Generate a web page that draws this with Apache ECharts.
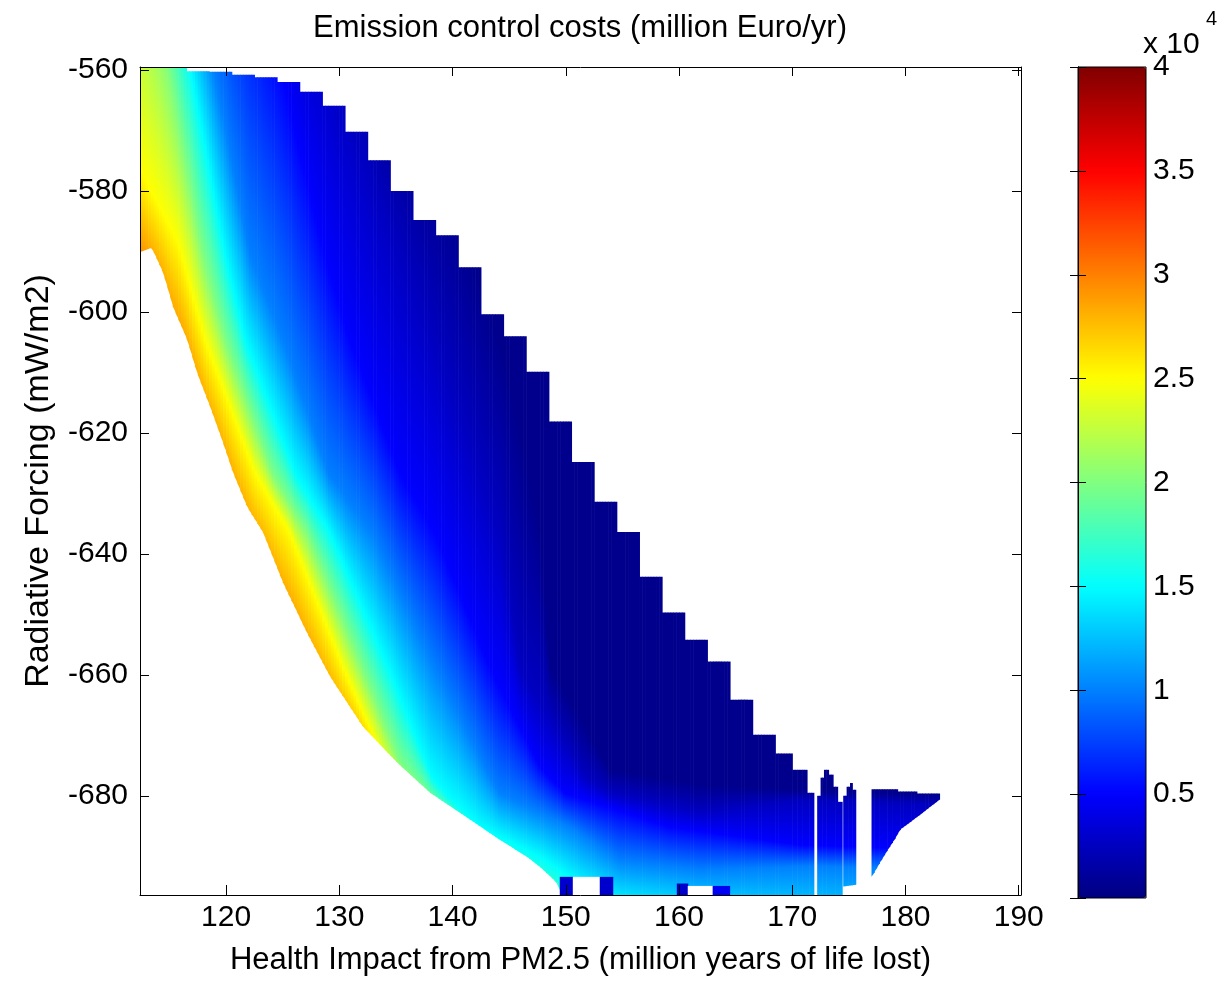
<!DOCTYPE html>
<html>
<head>
<meta charset="utf-8">
<title>Emission control costs</title>
<script src="https://cdn.jsdelivr.net/npm/echarts@6/dist/echarts.min.js"></script>
<style>
html, body { margin: 0; padding: 0; background: #fff; }
#chart { width: 1222px; height: 983px; }
</style>
</head>
<body>
<div id="chart"></div>
<script>
// tick values
const xTicks = [120, 130, 140, 150, 160, 170, 180, 190];
const yTicks = [-680, -660, -640, -620, -600, -580, -560];

// MATLAB jet colour map, 0 .. 40000 million Euro/yr
const jet = ['#000080', '#0000ff', '#0080ff', '#00ffff', '#80ff80', '#ffff00', '#ff8000', '#ff0000', '#800000'];

// cost contours: [health impact, radiative forcing]
const levels = [500, 2500, 5000, 10000, 15000, 20000, 25000, 30000];
const contour500 = [[112.4, -460], [133.58, -559.5], [139.76, -579.5], [144.62, -607.9], [147.7, -636.5], [148.59, -658.7], [153.88, -675.7], [161.83, -678.2], [170.65, -679.0], [183.0, -679.8]];
const contour2500 = [[112.4, -470], [129.61, -559.5], [133.58, -581.5], [137.99, -603.0], [141.53, -621.2], [144.17, -636.5], [145.94, -658.7], [151.68, -676.9], [153.88, -679.5], [161.83, -682.6], [170.65, -680.7], [183.0, -681.5]];
const contour5000 = [[112.4, -480], [124.76, -559.5], [128.73, -590.6], [130.93, -604.6], [135.35, -626.6], [138.44, -636.5], [143.29, -658.7], [147.7, -675.2], [149.91, -679.5], [159.18, -685.1], [170.65, -688.1], [183.0, -688.9]];
const contour10000 = [[112.4, -498], [118.84, -559.5], [122.11, -590.6], [125.02, -604.6], [128.99, -626.6], [132.88, -636.5], [138.44, -658.7], [143.29, -676.9], [144.17, -679.5], [150.35, -685.1], [154.77, -690.6], [161.83, -692.2], [171.54, -691.6], [183.0, -692.2]];
const contour15000 = [[112.4, -515], [116.81, -559.5], [119.9, -590.6], [121.67, -604.6], [126.08, -626.6], [129.17, -636.5], [134.29, -658.7], [138.17, -676.9], [139.32, -679.5], [142.41, -685.1], [148.15, -690.6], [151.24, -694.7], [154.77, -698.0], [183.0, -706]];
const contour20000 = [[112.4, -535.2], [114.87, -559.5], [117.96, -590.6], [119.9, -604.6], [124.05, -626.6], [127.14, -636.5], [131.99, -658.7], [135.52, -675.2], [136.94, -678.2], [138.88, -682.3], [145.94, -697.2], [183.0, -740]];
const contour25000 = [[112.4, -576.5], [115.75, -588.4], [118.14, -604.6], [122.55, -626.6], [125.64, -636.5], [130.32, -658.7], [133.14, -670.7], [135.35, -680.7], [140.0, -700], [183.0, -760]];
const contour30000 = [[112.4, -592], [113.43, -595.4], [114.43, -599.5], [115.31, -605.2], [116.55, -610.6], [117.43, -616.1], [118.58, -621.7], [119.64, -627.2], [120.61, -632.6], [121.84, -638.2], [123.26, -642.5], [125.02, -650.8], [127.14, -659.1], [129.17, -666.3], [132.08, -674.6], [135.0, -685], [140.0, -710], [183.0, -780]];
const contours = [contour500, contour2500, contour5000, contour10000, contour15000, contour20000, contour25000, contour30000];

// feasible region: column left edges and column tops (null = empty column)
const colX = [112.4, 116.5, 118.5, 120.5, 122.5, 124.5, 126.5, 128.5, 130.5, 132.5, 134.5, 136.5, 138.5, 140.5, 142.5, 144.5, 146.5, 148.5, 150.5, 152.5, 154.5, 156.5, 158.5, 160.5, 162.5, 164.5, 166.5, 168.5, 170.0, 171.3, 171.9, 172.2, 172.5, 172.8, 173.2, 173.6, 174.0, 174.4, 174.5, 174.8, 175.1, 175.3, 175.6, 177.0, 179.3, 181.0, 183.0];
const colTop = [-559.5, -560.2, -560.3, -560.8, -561.2, -562.0, -563.6, -565.9, -570.2, -574.9, -580.0, -584.8, -587.3, -592.6, -600.4, -604.0, -609.9, -618.1, -624.8, -631.4, -636.4, -643.8, -649.7, -654.2, -657.8, -664.1, -669.9, -673.0, -675.7, -679.5, null, -680.0, -677.0, -675.7, -676.5, -678.5, -681.0, null, -680.0, -678.5, -677.9, -679.0, null, -678.9, -679.3, -679.6, null];

// lower edge of the region (front)
const front = [[112.4, -590.1], [113.43, -589.4], [114.43, -593.5], [115.31, -599.2], [116.55, -604.6], [117.43, -610.1], [118.58, -615.7], [119.64, -621.2], [120.61, -626.6], [121.84, -632.2], [123.26, -636.5], [125.02, -644.8], [127.14, -653.1], [129.17, -660.3], [132.08, -668.6], [135.08, -674.5], [138.0, -679.5], [141.26, -683.6], [144.17, -687.3], [146.56, -690.1], [147.97, -692.2], [149.2, -694.4], [149.73, -697], [174.4, -697], [174.5, -695], [175.6, -694.7], [177.0, -693.4], [177.7, -691.1], [178.6, -688.4], [179.0, -687.3], [179.5, -685.6], [181.3, -683.1], [183.0, -680.6]];

// odd cells in the last row: x from, x to, top, cost ('-' = empty)
const bottomCells = [
    [149.47, 150.62, -693.4, 3000],
    [150.62, 153.0, -693.4, '-'],
    [153.0, 154.15, -693.4, 3000],
    [159.8, 160.77, -694.5, 3000],
    [160.77, 162.97, -694.9, '-'],
    [162.97, 164.47, -694.9, 4500]
];

const xMin = 112.4, xMax = 190.2, yMin = -696.4, yMax = -559.5;
const font = 'Liberation Sans, Arial, sans-serif';

function lineAt(pts, x) {
    if (x <= pts[0][0]) return pts[0][1];
    for (let i = 1; i < pts.length; i++) {
        if (x <= pts[i][0]) {
            let a = pts[i - 1], b = pts[i];
            return a[1] + (b[1] - a[1]) * (x - a[0]) / (b[0] - a[0]);
        }
    }
    return pts[pts.length - 1][1];
}
function costAt(cy, y) {
    if (y >= cy[0]) return levels[0];
    for (let k = 1; k < cy.length; k++) {
        if (y >= cy[k]) {
            return levels[k - 1] + (levels[k] - levels[k - 1]) * (cy[k - 1] - y) / (cy[k - 1] - cy[k]);
        }
    }
    return levels[levels.length - 1];
}
function costColor(v) {
    return echarts.color.lerp(Math.max(0, Math.min(1, v / 40000)), jet);
}

// thin vertical strips of each column
let strips = [];
for (let i = 0; i < colX.length - 1; i++) {
    if (colTop[i] === null) continue;
    let w = colX[i + 1] - colX[i];
    let n = Math.max(1, Math.ceil(w / 0.25));
    for (let j = 0; j < n; j++) {
        let xa = colX[i] + w * j / n, xb = colX[i] + w * (j + 1) / n;
        strips.push([xa, xb, colTop[i], Math.max(yMin, lineAt(front, xa)), Math.max(yMin, lineAt(front, xb))]);
    }
}

function renderStrip(params, api) {
    let xa = api.value(0), xb = api.value(1), top = api.value(2);
    let ba = Math.min(api.value(3), top), bb = Math.min(api.value(4), top);
    if (ba >= top && bb >= top) return;
    let xc = (xa + xb) / 2;
    let yB = Math.min(ba, bb);
    let cy = contours.map(c => lineAt(c, xc));
    let stops = [{offset: 0, color: costColor(costAt(cy, top))}];
    cy.forEach(function (y, k) {
        if (y < top && y > yB) stops.push({offset: (top - y) / (top - yB), color: costColor(levels[k])});
    });
    stops.push({offset: 1, color: costColor(costAt(cy, yB))});
    let p1 = api.coord([xa, top]), p2 = api.coord([xb, top]);
    let p3 = api.coord([xb, bb]), p4 = api.coord([xa, ba]);
    let py0 = p1[1], py1 = api.coord([xc, yB])[1];
    return {
        type: 'polygon',
        shape: {points: [p1, [p2[0] + 0.6, p2[1]], [p3[0] + 0.6, p3[1]], p4]},
        style: {fill: new echarts.graphic.LinearGradient(0, py0, 0, py1, stops, true)}
    };
}

function renderCell(params, api) {
    let p0 = api.coord([api.value(0), api.value(2)]);
    let p1 = api.coord([api.value(1), yMin]);
    let v = api.value(3);
    return {
        type: 'rect',
        shape: {x: p0[0], y: p0[1], width: p1[0] - p0[0] + 0.5, height: p1[1] - p0[1]},
        style: {fill: isNaN(v) ? '#fff' : api.visual('color')}
    };
}

let chart = echarts.init(document.getElementById('chart'), null, {renderer: 'canvas'});
let blackLine = {show: true, lineStyle: {color: '#000', width: 1}};
let option = {
    animation: false,
    backgroundColor: '#fff',
    title: {
        text: 'Emission control costs (million Euro/yr)',
        left: 580, top: 13, textAlign: 'center', padding: 0,
        textStyle: {fontFamily: font, fontSize: 31, fontWeight: 'normal', color: '#000'}
    },
    grid: [
        {left: 140, top: 67, right: 201, bottom: 88},
        {left: 1078, top: 67, width: 68, height: 831, show: true, borderColor: '#000', borderWidth: 1, backgroundColor: 'transparent', z: 10}
    ],
    xAxis: [
        {
            gridIndex: 0, type: 'value', min: xMin, max: xMax, position: 'bottom', z: 10,
            axisLine: blackLine,
            axisTick: {inside: true, length: 10, customValues: xTicks, lineStyle: {color: '#000'}},
            axisLabel: {customValues: xTicks, margin: 8, fontSize: 30, fontFamily: font, color: '#000'},
            splitLine: {show: false},
            name: 'Health Impact from PM2.5 (million years of life lost)',
            nameLocation: 'middle', nameGap: 50,
            nameTextStyle: {fontSize: 31, fontFamily: font, color: '#000'}
        },
        {
            gridIndex: 0, type: 'value', min: xMin, max: xMax, position: 'top', z: 10,
            axisLine: blackLine,
            axisTick: {inside: true, length: 9, customValues: xTicks, lineStyle: {color: '#000'}},
            axisLabel: {show: false}, splitLine: {show: false}
        },
        {gridIndex: 1, type: 'value', min: 0, max: 1, show: false}
    ],
    yAxis: [
        {
            gridIndex: 0, type: 'value', min: yMin, max: yMax, position: 'left', z: 10,
            axisLine: blackLine,
            axisTick: {inside: true, length: 9, customValues: yTicks, lineStyle: {color: '#000'}},
            axisLabel: {customValues: yTicks, margin: 12, fontSize: 30, fontFamily: font, color: '#000'},
            splitLine: {show: false},
            name: 'Radiative Forcing (mW/m2)',
            nameLocation: 'middle', nameGap: 84, nameRotate: 90,
            nameTextStyle: {fontSize: 34, fontFamily: font, color: '#000'}
        },
        {
            gridIndex: 0, type: 'value', min: yMin, max: yMax, position: 'right', z: 10,
            axisLine: blackLine,
            axisTick: {inside: true, length: 9, customValues: yTicks, lineStyle: {color: '#000'}},
            axisLabel: {show: false}, splitLine: {show: false}
        },
        {
            gridIndex: 1, type: 'value', min: 0, max: 40000, interval: 5000, position: 'right', z: 10,
            axisLine: blackLine,
            axisTick: {inside: true, length: 8, lineStyle: {color: '#000'}},
            axisLabel: {margin: 7, fontSize: 30, fontFamily: font, color: '#000',
                formatter: v => v === 0 ? '' : String(v / 10000)},
            splitLine: {show: false}
        },
        {
            gridIndex: 1, type: 'value', min: 0, max: 40000, interval: 5000, position: 'left', z: 10,
            axisLine: blackLine,
            axisTick: {inside: true, length: 8, lineStyle: {color: '#000'}},
            axisLabel: {show: false}, splitLine: {show: false}
        }
    ],
    visualMap: {
        type: 'continuous', min: 0, max: 40000, seriesIndex: 1, dimension: 3,
        calculable: false, hoverLink: false, left: 1078, top: 67, padding: 0,
        itemWidth: 68, itemHeight: 831, text: null, showLabel: false,
        inRange: {color: jet}
    },
    graphic: [
        {type: 'text', left: 1143, top: 30, style: {text: 'x 10', fontSize: 30, fontFamily: font, fill: '#000'}},
        {type: 'text', left: 1206, top: 9, style: {text: '4', fontSize: 20, fontFamily: font, fill: '#000'}}
    ],
    series: [
        {
            type: 'custom', xAxisIndex: 0, yAxisIndex: 0, clip: true,
            renderItem: renderStrip, data: strips, encode: {x: [0, 1], y: [2, 3]}, silent: true
        },
        {
            type: 'custom', xAxisIndex: 0, yAxisIndex: 0, clip: true,
            renderItem: renderCell, data: bottomCells, encode: {x: [0, 1], y: 2}, silent: true
        }
    ]
};
chart.setOption(option);
</script>
</body>
</html>
